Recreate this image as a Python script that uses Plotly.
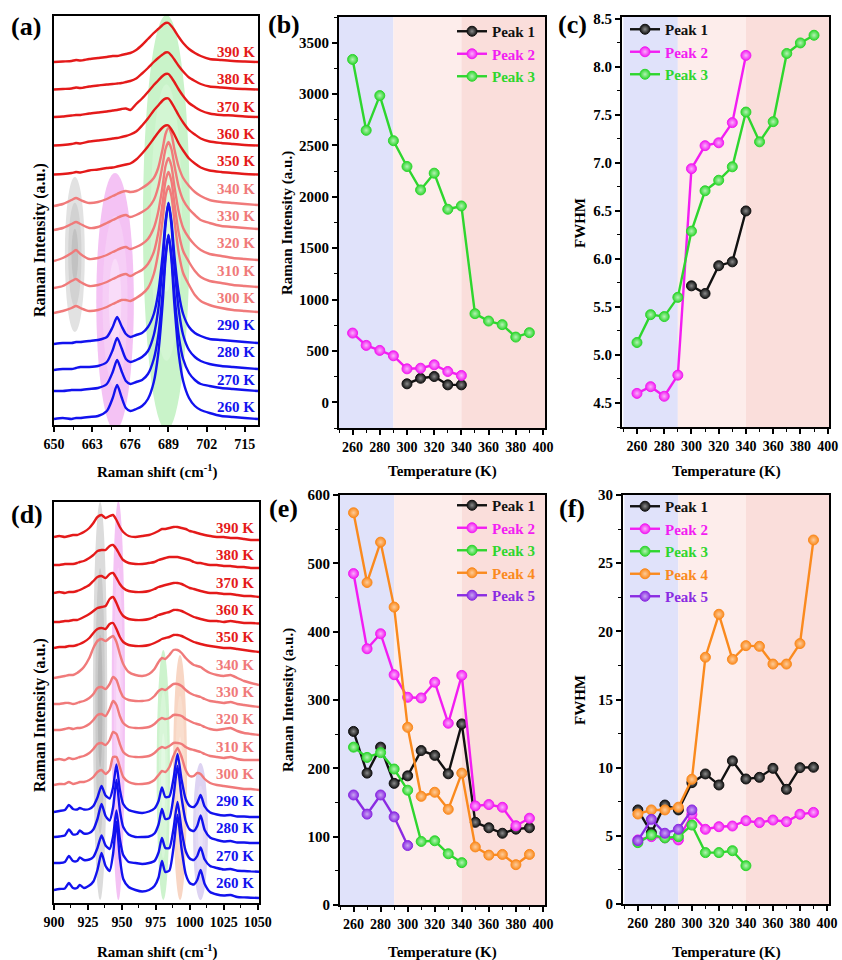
import plotly.graph_objects as go

W, H = 842, 960
FONT = "Liberation Serif"

# ---------------- data ----------------
temps = [260, 270, 280, 290, 300, 310, 320, 330, 340, 350, 360, 370, 380, 390]

# panel (a): Raman spectra 650-720 cm-1 (height above each baseline, a.u.)
shift_a = [650, 653, 656, 657.5, 659, 662, 665, 668, 670, 671.5, 673, 674.5, 676, 678, 680, 682,
           684, 685.5, 687, 688, 689, 690, 691, 692.5, 694, 696, 698, 700, 703, 707, 711, 715, 719.5]
a_260 = [1,2,1,2,2,3,4,9,22,35,23,12,9,11,14,21,38,66,116,161,185,161,116,66,39,22,14,10,7,4,3,2,1]
a_270 = [1,1,2,2,2,3,4,8,20,32,21,11,8,10,12,18,33,56,99,137,157,137,99,56,33,19,12,8,6,4,3,2,1]
a_280 = [0,1,1,2,3,3,4,8,20,32,22,11,8,10,13,19,35,60,105,145,167,145,105,60,35,20,13,9,6,4,3,2,1]
a_290 = [0,1,1,2,2,3,4,7,17,27,18,10,7,9,11,17,30,51,89,123,141,123,89,51,30,17,11,8,5,4,3,2,1]
a_300 = [0,2,5,7,5,2,3,6,9,11,13,13,12,15,19,25,39,60,93,117,127,117,93,60,40,28,18,12,8,5,3,2,1]
a_310 = [0,2,7,9,6,2,3,6,9,11,13,14,12,15,18,24,36,55,85,107,116,107,85,55,37,26,17,11,7,5,3,2,1]
a_320 = [0,3,8,11,7,2,3,6,9,11,13,14,12,14,17,22,33,49,75,95,103,95,75,49,33,23,16,11,7,5,3,2,1]
a_330 = [0,2,6,8,6,2,3,7,10,12,14,15,13,15,18,22,30,43,65,81,88,81,65,43,30,21,15,10,7,4,3,2,1]
a_340 = [0,2,6,8,6,3,4,7,10,12,14,15,14,15,18,22,28,38,57,72,78,72,57,39,28,20,14,10,6,4,3,2,1]
a_350 = [0,0.5,1.5,2.5,2,4,5,6.5,7,8,9,10,11,15,21,28,36,42,47,49,49,45,40,31,24,16,11,7,4,2.5,1.5,0.5,0]
a_360 = [0,0.5,1.5,2.5,2,4,5,6,7,7.5,8.5,9.5,11,14,20,27,35,40,45,47,47,43,38,30,23,15.5,11,7,4,2.5,1.5,0.5,0]
a_370 = [0,0.5,1.5,2,2,3.5,4.5,5.5,6.5,7,8,8.5,7,13,18.5,25,32,36.5,41,43,43,39.5,35,27.5,21,14,10,6.5,3.5,2,1.5,0.5,0]
a_380 = [0,0.5,1,2,1.5,3,4,5,5.5,6,6.5,7.5,8.5,11,16,21.5,27.5,31.5,35,37,37,34,30,23.5,18,12,8.5,5.5,3,2,1,0.5,0]
a_390 = [0,0.5,1,2,1.5,3,4,5,6,6,7,8,9,12,17,23,29,33,37,39,39,36,32,25,19,13,9,6,3,2,1,0.5,0]
offset_a = [5, 33, 55, 81, 112, 137, 164, 195, 219, 250.5, 279.5, 308, 335.5, 363]

# panel (d): Raman spectra 900-1050 cm-1
shift_d = [900, 904, 908, 911, 914, 917, 919, 922, 926, 929, 932, 935, 938, 941, 943.5, 946, 948.5,
           951, 955, 960, 965, 970, 974, 977, 979.5, 982, 985, 988, 991, 994, 997, 1000, 1003,
           1005.5, 1008, 1011, 1015, 1020, 1025, 1030, 1035, 1040, 1045, 1051]
d_260 = [0,1,1.5,7,2,2,5,2,4.5,8.5,20,37,24,19,36,68,32,11,3,0,-1.5,0,4,12.5,29,18,19.5,42,75,41,16,7,5.5,10,20,6,-2,-4.5,-5.5,-5,-7,-7.4,-7.7,-8]
d_270 = [0,0,1,7,2,2,5.5,3,3.5,6,15,27.5,17.5,14,26.5,52.5,24,8,1,0,-1,0,2,10.5,25,15,15,34,61,32.5,12,4.5,3,7,15.5,3.5,-3,-5,-6.5,-6,-7.8,-8,-8.4,-8.7]
d_280 = [0,0.5,1.5,7.5,2.5,3,6.5,3.5,4,7.5,18,33,21,16.5,29.5,57,27,10,2.5,0,0,0.5,3.5,12.5,28,18,19,40,71,39,16,7.5,6,11,21.5,7,-0.5,-3,-4.5,-4,-5.5,-5.5,-6,-6]
d_290 = [0,1,2,7,3,2.5,4,2.5,3,6,14.5,26,16.5,13.5,24.5,47.5,22.5,8,2,0,-1,0.5,3.5,11,24.5,15,15.5,33,58,32,13,6,5,9,17,5.5,-0.5,-2.5,-3.5,-3,-4.5,-4.5,-5,-5]
d_300 = [0,1,1,3,1,2,3,3,5,8,13,15,11,15,28,28,18,8,3,1,1,2,5,10,14,13,18,29,37,28,15,9,9,12,11,6,2,0,-1,-2,-3,-4,-4,-5]
d_310 = [0,1,0,2,1,2,3,4,7,11,16,17,15,20,28,26,16,8,4,3,3,4,7,11,13,12,14,17,17,16,13,11,10,9,8,6,4,3,2,3,1,0,0,0]
d_320 = [0,0,1,2,1,2,2,3,6,10,15,16,14,21,29,25,14,7,3,2,2,3,6,10,12,11,12,15,15,14,11,9,7,6,5,3,1,0,1,2,-1,-3,-4,-5]
d_330 = [0,0,1,1,0,1,2,3,6,10,16,17,15,20,27,24,14,7,4,3,3,4,8,13,15,14,17,20,20,18,14,11,9,8,7,5,3,2,1,2,0,-1,-2,-3]
d_340 = [0,1,2,3,3,5,7,11,20,30,37,39,37,40,42,36,24,14,6,3,2,4,9,16,20,19,23,28,28,25,20,16,13,12,11,8,5,3,2,3,0,-3,-5,-7]
d_350 = [0,1,1,2,2,3,4,6,10,15,19,20,19,24,25,19,11,6,3,2,2,3,5,7,9,10,11,13,13,12,10,8,6,5,4,3,2,1,0,0,-1,-2,-3,-4]
d_360 = [0,0,1,1,2,2,3,5,8,11,14,15,16,23,25,19,11,6,3,2,2,3,5,7,8,9,10,12,12,11,9,7,5,4,3,2,1,1,0,1,0,-1,-1,-1.5]
d_370 = [0,1,0,1,1,2,3,5,8,12,16,17,15,19,20,15,9,5,2,1,1,2,4,6,7,8,9,10,10,9,7,5,4,3,2,1,0,0,-1,-1,-2,-3,-3,-4]
d_380 = [0,0,1,1,1,2,3,4,7,10,14,15,15,19,20,16,10,5,2,1,1,2,3,5,6,7,8,8,8,7,6,5,3,2,2,1,0,0,-1,-1,-2,-2,-3,-3]
d_390 = [0,1,0,1,2,2,3,5,9,14,20,22,19,21,22,17,10,5,1,0,1,2,4,6,8,8,9,10,10,9,8,6,5,4,3,2,1,0,0,-1,-1,-2,-3,-3]
offset_d = [13, 40, 66, 91, 118, 143, 173, 199, 225, 255, 281, 310, 338, 366]

spectra_a = [a_260, a_270, a_280, a_290, a_300, a_310, a_320, a_330, a_340, a_350, a_360, a_370, a_380, a_390]
spectra_d = [d_260, d_270, d_280, d_290, d_300, d_310, d_320, d_330, d_340, d_350, d_360, d_370, d_380, d_390]

# panel (b): intensity, 650-720 region
b_t1 = [300, 310, 320, 330, 340]
b_p1 = [180, 234, 251, 170, 170]
b_t2 = [260, 270, 280, 290, 300, 310, 320, 330, 340]
b_p2 = [674, 554, 505, 453, 326, 332, 365, 300, 261]
b_p3 = [3337, 2647, 2985, 2546, 2295, 2067, 2230, 1879, 1911, 863, 791, 756, 635, 678]

# panel (c): FWHM, 650-720 region
c_p1 = [5.72, 5.64, 5.93, 5.97, 6.50]
c_p2 = [4.60, 4.67, 4.57, 4.79, 6.94, 7.18, 7.21, 7.42, 8.12]
c_p3 = [5.13, 5.42, 5.40, 5.60, 6.29, 6.71, 6.82, 6.96, 7.53, 7.22, 7.43, 8.14, 8.25, 8.33]

# panel (e): intensity, 900-1050 region
e_t3 = [260, 270, 280, 290, 300, 310, 320, 330, 340]
e_t5 = [260, 270, 280, 290, 300]
e_p1 = [254, 193, 231, 178, 189, 226, 219, 192, 265, 121, 113, 105, 111, 113]
e_p2 = [485, 375, 397, 337, 304, 303, 326, 266, 336, 145, 147, 143, 116, 127]
e_p3 = [231, 216, 223, 199, 168, 93, 94, 75, 62]
e_p4 = [574, 472, 531, 436, 260, 159, 165, 140, 193, 85, 73, 74, 59, 74]
e_p5 = [161, 133, 161, 129, 87]

# panel (f): FWHM, 900-1050 region
f_p1 = [6.9, 5.23, 7.26, 6.9, 8.9, 9.54, 8.73, 10.5, 9.17, 9.29, 9.95, 8.41, 10.0, 10.03]
f_p2 = [4.7, 4.94, 4.85, 4.7, 6.58, 5.48, 5.67, 5.72, 6.11, 5.97, 6.16, 6.04, 6.58, 6.72]
f_p3 = [4.5, 5.06, 4.85, 4.94, 5.79, 3.77, 3.77, 3.91, 2.81]
f_p4 = [6.6, 6.9, 6.9, 7.1, 9.15, 18.1, 21.25, 17.95, 18.95, 18.9, 17.6, 17.6, 19.1, 26.7]
f_p5 = [4.65, 6.21, 5.19, 5.48, 6.9]

region_edges = [250, 290, 340, 402]

# ---------------- styles ----------------
BLUE, PINK, RED = "#1212EE", "#F07A7A", "#E41A1A"
C1, C2, C3, C4, C5 = "#111111", "#F21DF2", "#2ED62E", "#FA8A1E", "#8A2BE2"
HL = {C1: "#8a8a8a", C2: "#FBB0FB", C3: "#B5F2B5", C4: "#FDCB9A", C5: "#C9A6F2"}
REG_COLORS = ["rgb(224,226,250)", "rgb(253,237,235)", "rgb(250,222,219)"]


def temp_color(t):
    return BLUE if t < 300 else (PINK if t < 350 else RED)


def px_x(p):
    return p / W


def px_y(p):
    return 1 - p / H


fig = go.Figure()

# spectra
for i, t in enumerate(temps):
    fig.add_trace(go.Scatter(x=shift_a, y=[v + offset_a[i] for v in spectra_a[i]], mode="lines",
                             line=dict(color=temp_color(t), width=2.4, shape="spline", smoothing=0.7),
                             xaxis="x", yaxis="y", showlegend=False, hoverinfo="skip"))
    fig.add_trace(go.Scatter(x=shift_d, y=[v + offset_d[i] for v in spectra_d[i]], mode="lines",
                             line=dict(color=temp_color(t), width=2.4, shape="spline", smoothing=0.6),
                             xaxis="x4", yaxis="y4", showlegend=False, hoverinfo="skip"))


def peak_trace(x, y, color, name, ax, leg):
    return go.Scatter(
        x=x, y=y, mode="lines+markers", name=f'<span style="color:{color}">{name}</span>',
        line=dict(color=color, width=2.4),
        marker=dict(size=10, color=color, gradient=dict(type="radial", color=HL[color]),
                    line=dict(color=color, width=1)),
        xaxis="x" + ax, yaxis="y" + ax, legend=leg)


fig.add_trace(peak_trace(b_t1, b_p1, C1, "Peak 1", "2", "legend"))
fig.add_trace(peak_trace(b_t2, b_p2, C2, "Peak 2", "2", "legend"))
fig.add_trace(peak_trace(temps, b_p3, C3, "Peak 3", "2", "legend"))

fig.add_trace(peak_trace(b_t1, c_p1, C1, "Peak 1", "3", "legend2"))
fig.add_trace(peak_trace(b_t2, c_p2, C2, "Peak 2", "3", "legend2"))
fig.add_trace(peak_trace(temps, c_p3, C3, "Peak 3", "3", "legend2"))

fig.add_trace(peak_trace(temps, e_p1, C1, "Peak 1", "5", "legend3"))
fig.add_trace(peak_trace(temps, e_p2, C2, "Peak 2", "5", "legend3"))
fig.add_trace(peak_trace(e_t3, e_p3, C3, "Peak 3", "5", "legend3"))
fig.add_trace(peak_trace(temps, e_p4, C4, "Peak 4", "5", "legend3"))
fig.add_trace(peak_trace(e_t5, e_p5, C5, "Peak 5", "5", "legend3"))

fig.add_trace(peak_trace(temps, f_p1, C1, "Peak 1", "6", "legend4"))
fig.add_trace(peak_trace(temps, f_p2, C2, "Peak 2", "6", "legend4"))
fig.add_trace(peak_trace(e_t3, f_p3, C3, "Peak 3", "6", "legend4"))
fig.add_trace(peak_trace(temps, f_p4, C4, "Peak 4", "6", "legend4"))
fig.add_trace(peak_trace(e_t5, f_p5, C5, "Peak 5", "6", "legend4"))

# ---------------- shapes ----------------
shapes = []
for ax in ["2", "3", "5", "6"]:
    for k in range(3):
        shapes.append(dict(type="rect", xref="x" + ax, yref="y" + ax + " domain",
                           x0=region_edges[k], x1=region_edges[k + 1], y0=0, y1=1,
                           fillcolor=REG_COLORS[k], line=dict(width=0), layer="below"))


def ellipse(ax, x0, x1, y0, y1, colors):
    n = len(colors)
    cx, cy = (x0 + x1) / 2, (y0 + y1) / 2
    for j, col in enumerate(colors):
        f = 1 - j / n
        shapes.append(dict(type="circle", xref="x" + ax, yref="y" + ax,
                           x0=cx - (cx - x0) * f, x1=cx + (x1 - cx) * f,
                           y0=cy - (cy - y0) * f, y1=cy + (y1 - cy) * f,
                           fillcolor=col, line=dict(width=0), layer="below"))


ellipse("", 653.7, 660.5, 93, 248, ["#e2e2e2", "#d2d2d2", "#c2c2c2"])
ellipse("", 664.4, 677.2, -5, 252, ["#f4c2f4", "#f6cef6", "#f9dcf9"])
ellipse("", 680.3, 696.3, -5, 410, ["#c9f3c9", "#d3f6d3", "#ddf9dd"])

ellipse("4", 928.7, 939.2, 3, 401, ["#dcdcdc", "#cacaca", "#b8b8b8"])
ellipse("4", 942.5, 952.3, 3, 402, ["#f4c2f4", "#f6cef6", "#f9dcf9"])
ellipse("4", 975.6, 985.4, 3, 253, ["#cdf3cd", "#d8f6d8", "#e3f9e3"])
ellipse("4", 987.7, 998.0, 3, 248, ["#f8d6c4", "#f9dece", "#fbe7dc"])
ellipse("4", 1002.4, 1013.4, 3, 140, ["#ddd3f2", "#e3daf4", "#eae3f7"])

# ---------------- annotations ----------------
ann = []
LABEL_STEP = 27.3
for i, t in enumerate(temps):
    ann.append(dict(x=719.0, y=18 + i * LABEL_STEP, xref="x", yref="y", text=f"<b>{t} K</b>",
                    showarrow=False, xanchor="right", yanchor="middle",
                    font=dict(family=FONT, size=15, color=temp_color(t))))
    ann.append(dict(x=1049.0, y=20 + i * LABEL_STEP, xref="x4", yref="y4", text=f"<b>{t} K</b>",
                    showarrow=False, xanchor="right", yanchor="middle",
                    font=dict(family=FONT, size=15, color=temp_color(t))))


def txt(px, py, s, size, angle=0):
    ann.append(dict(x=px_x(px), y=px_y(py), xref="paper", yref="paper", text=f"<b>{s}</b>",
                    showarrow=False, xanchor="center", yanchor="middle", textangle=angle,
                    font=dict(family=FONT, size=size, color="black")))


for lab, (px, py) in {"(a)": (26, 27), "(b)": (284, 25), "(c)": (572, 25),
                      "(d)": (27, 514), "(e)": (283, 508), "(f)": (572, 508)}.items():
    txt(px, py, lab, 26)

shift_title = "Raman shift (cm<sup>-1</sup>)"
txt(157, 471, shift_title, 15)
txt(157, 951, shift_title, 15)
txt(442, 471, "Temperature (K)", 15)
txt(726, 471, "Temperature (K)", 15)
txt(442, 952, "Temperature (K)", 15)
txt(726, 952, "Temperature (K)", 15)
txt(40, 240, "Raman Intensity (a.u.)", 16, -90)
txt(40, 715, "Raman Intensity (a.u.)", 16, -90)
txt(287, 223, "Raman Intensity (a.u.)", 15, -90)
txt(288, 700, "Raman Intensity (a.u.)", 15, -90)
txt(580, 223, "FWHM", 15, -90)
txt(580, 700, "FWHM", 15, -90)

# ---------------- axes ----------------
tickfont = dict(family=FONT, size=14, color="black", weight="bold")
base = dict(showline=True, linewidth=2, linecolor="black", mirror=True, ticks="outside",
            ticklen=5, tickwidth=1.5, tickcolor="black", showgrid=False, zeroline=False,
            tickfont=tickfont, fixedrange=True, automargin=False)


def xa(dom, rng, dtick, tick0, anchor, mdt):
    d = dict(base)
    d.update(domain=[px_x(dom[0]), px_x(dom[1])], range=rng, dtick=dtick, tick0=tick0,
             anchor=anchor, minor=dict(ticks="outside", ticklen=3, tickwidth=1.2,
                                       tickcolor="black", dtick=mdt, tick0=tick0))
    return d


def ya(dom, rng, dtick, anchor, mdt, labels=True, fmt=None):
    d = dict(base)
    d.update(domain=[px_y(dom[1]), px_y(dom[0])], range=rng, anchor=anchor)
    if labels:
        d.update(dtick=dtick, tick0=0, tickfont=dict(tickfont, size=15),
                 minor=dict(ticks="outside", ticklen=3, tickwidth=1.2, tickcolor="black",
                            dtick=mdt, tick0=0))
        if fmt:
            d.update(tickformat=fmt)
    else:
        d.update(showticklabels=False, ticks="")
    return d


layout = dict(
    width=W, height=H, autosize=False, paper_bgcolor="white", plot_bgcolor="white",
    margin=dict(l=0, r=0, t=0, b=0, pad=0, autoexpand=False), shapes=shapes, annotations=ann,
    font=dict(family=FONT, color="black"),
    xaxis=xa((54, 258), [650, 719.5], 13, 650, "y", 6.5),
    yaxis=ya((16, 425), [0, 409], None, "x", None, False),
    xaxis2=xa((339, 545), [250, 401.5], 20, 260, "y2", 10),
    yaxis2=ya((17, 428), [-250, 3750], 500, "x2", 250),
    xaxis3=xa((622, 829), [249, 401], 20, 260, "y3", 10),
    yaxis3=ya((17, 427), [4.25, 8.52], 0.5, "x3", 0.25, fmt=".1f"),
    xaxis4=xa((54, 259), [900, 1051], 25, 900, "y4", 12.5),
    yaxis4=ya((502, 903), [0, 401], None, "x4", None, False),
    xaxis5=xa((340, 545), [250, 401.5], 20, 260, "y5", 10),
    yaxis5=ya((495, 905), [0, 600], 100, "x5", 50),
    xaxis6=xa((623, 829), [249, 401.5], 20, 260, "y6", 10),
    yaxis6=ya((495, 904), [0, 30], 5, "x6", 2.5),
)

leg_common = dict(xanchor="left", yanchor="top", bgcolor="rgba(0,0,0,0)", borderwidth=0,
                  font=dict(family=FONT, size=15, color="black", weight="bold"),
                  tracegroupgap=0, itemwidth=30)
layout["legend"] = dict(leg_common, x=px_x(452), y=px_y(15))
layout["legend2"] = dict(leg_common, x=px_x(625), y=px_y(13))
layout["legend3"] = dict(leg_common, x=px_x(452), y=px_y(489))
layout["legend4"] = dict(leg_common, x=px_x(625), y=px_y(490))
layout["showlegend"] = True

fig.update_layout(**layout)
fig.write_html("out.html", config={"displayModeBar": False},
               post_script="document.body.style.margin='0px';")
